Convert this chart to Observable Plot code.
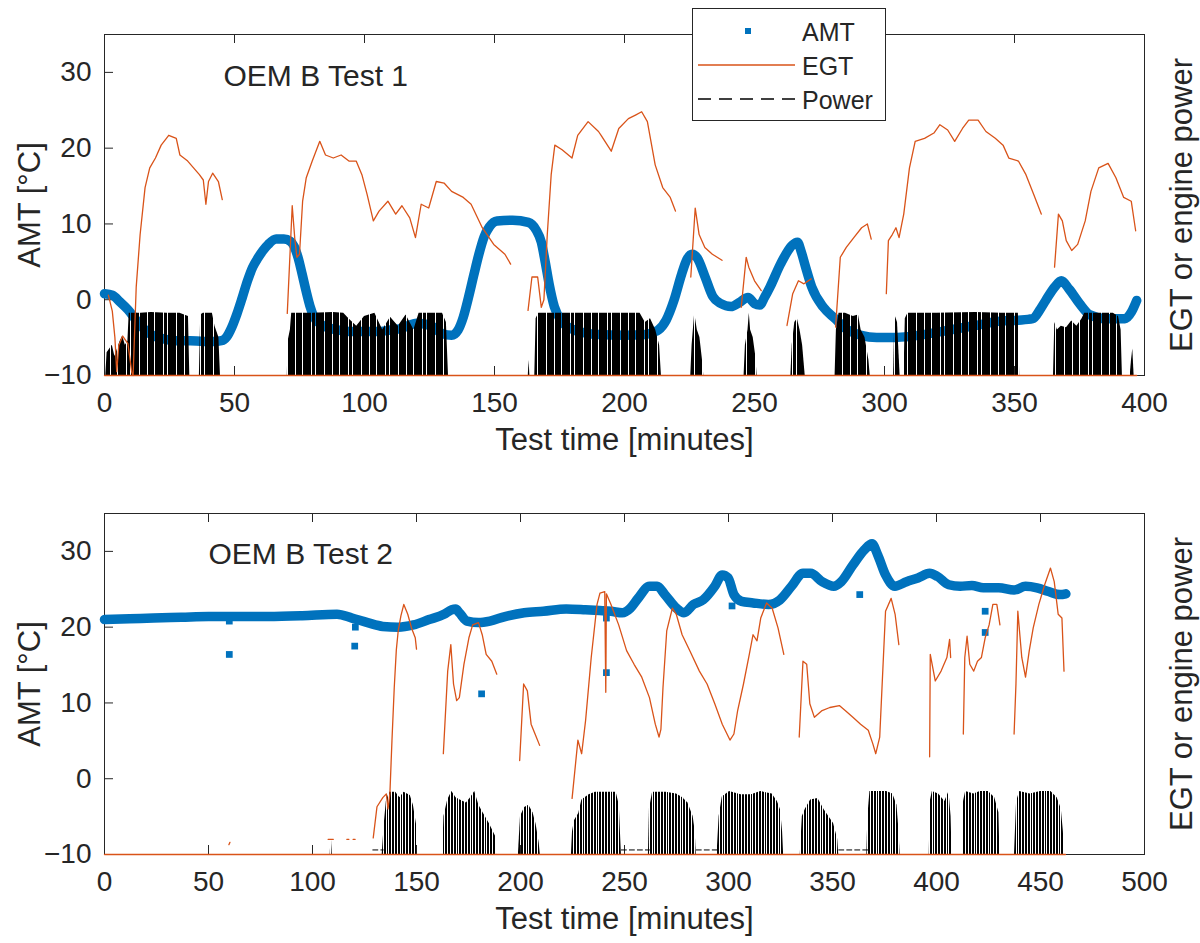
<!DOCTYPE html>
<html>
<head>
<meta charset="utf-8">
<script src="https://cdn.jsdelivr.net/npm/d3@7"></script>
<script src="https://cdn.jsdelivr.net/npm/@observablehq/plot@0.6"></script>
<style>
  body { margin: 0; background: #fff; }
  #fig { position: relative; width: 1200px; height: 943px; }
  #fig svg { display: block; }
</style>
</head>
<body>
<div id="fig"></div>
<script>
// ---------------------------------------------------------------------------
// Axis ticks
const yTicks = [-10, 0, 10, 20, 30];
const xTicks1 = [0, 50, 100, 150, 200, 250, 300, 350, 400];
const xTicks2 = [0, 50, 100, 150, 200, 250, 300, 350, 400, 450, 500];

// EGT and engine power have no tick scale of their own (the right axis only
// carries its title), so they are stored in the same units as the left axis.
const FLOOR = -10; // zero power / bottom of the frame

// ---------------------------------------------------------------------------
// OEM B Test 1: ambient temperature [t (min), °C]
const amt1 = [
  [0,0.8],[3,0.6],[6,-0.3],[9,-1.3],[12,-2.6],[15,-3.8],[18,-4.6],[22,-5.1],[27,-5.4],
  [33,-5.4],[38,-5.5],[42,-5.5],[45,-5.4],[47,-4.9],[49,-3.6],[51,-1.8],[53,0.3],[55,2.5],
  [57,4.3],[59,5.5],[61,6.5],[63,7.3],[66,8.0],[69,8.0],[71.5,7.7],[73,7.0],[74.5,5.5],
  [76,3.4],[77.5,1.2],[79,-0.8],[80.6,-2.3],[83,-3.2],[86,-3.7],[90,-4.0],[95,-4.2],
  [100,-4.2],[105,-4.2],[110,-4.0],[114,-3.8],[117,-3.4],[120,-3.1],[123,-3.2],[126,-3.5],
  [130,-4.5],[133.5,-4.7],[136,-4.0],[138,-2.3],[140,0.3],[142,3.2],[144,6.0],[146,8.3],
  [148,9.6],[151,10.4],[157,10.5],[163,10.2],[166,9.2],[168,7.6],[169.5,5.0],[171,2.1],
  [173,-0.9],[176,-2.9],[180,-3.9],[185,-4.4],[190,-4.6],[200,-4.7],[208,-4.6],[211,-4.3],
  [213,-4.0],[216,-2.7],[219,-0.1],[222,3.4],[224,5.3],[226,6.0],[228,5.5],[231,3.0],
  [234,0.4],[237,-0.5],[241,-0.9],[244,-0.4],[247.5,0.3],[250,-0.5],[252,-0.7],[254,0.4],
  [256,1.7],[260,4.7],[264.5,7.2],[266.5,7.6],[268,6.3],[269.5,4.5],[272,1.7],[276.5,-1.0],
  [281,-2.5],[285,-3.8],[291,-4.7],[297,-5.0],[303,-5.0],[308,-4.9],[315,-4.6],[325,-4.0],
  [335,-3.4],[345,-2.8],[351.5,-2.7],[357,-2.5],[360,-1.2],[362,-0.1],[365.5,1.7],[368,2.5],
  [371,1.4],[375,-0.5],[379,-2.0],[385,-2.5],[392.5,-2.5],[395,-1.6],[397,-0.1]
];

// OEM B Test 1: exhaust gas temperature, one list per recorded stretch
const egt1 = [
  [[0,-10],[397,-10]],
  [[1.5,0.6],[3,-1.5],[4,-5],[4.7,-9.5],[5.5,-6],[7,-4.8],[9,-5.8],[10.5,-9.6],[11,-10],
   [12.2,1.7],[13.7,8.6],[15.6,14.8],[17.4,17.4],[19.6,18.7],[21.8,20.4],[24.7,21.7],
   [27.6,21.3],[29,19.1],[32,18.3],[34.5,17.3],[36.5,16.5],[38,15.8],[39,12.6],[40,15.6],
   [41.6,16.7],[43.8,15.6],[45.3,13.2]],
  [[70.3,-1.8],[72.2,12.4],[73.2,8],[74,5.6],[75,6],[76.2,13],[77.6,16.1],[79.9,18.3],
   [82.8,20.9],[85,19.1],[88,18.7],[91,19.1],[94,18.3],[96.8,18.3],[99,16.5],[101,13.9],
   [103.4,10.4],[105.6,11.7],[109,13.0],[112,11.3],[114.4,12.4],[117.4,10.8],[119.6,8.2],
   [121.8,12.6],[124.7,12.1],[127.6,15.6],[130.6,15.4],[133.5,14.3],[138,13.5],[141,12.6],
   [145.3,9.5],[149.7,7.3],[154,6.0],[156.2,4.7]],
  [[162.9,-1.4],[164.4,3.0],[166.6,3.0],[168,-1.0],[169,0],[170.3,8.6],[171.8,16.5],
   [173.2,20.4],[176,19.8],[179.8,18.7],[182,21.7],[186,23.5],[190,22.2],[191,21.7],
   [194.9,19.6],[197.8,22.6],[201.5,23.9],[204.4,24.4],[206.6,24.8],[208.8,23.5],
   [211.8,17.8],[214.7,14.8],[217.6,13.5],[219.6,11.7]],
  [[225.5,3.0],[227.2,12.1],[228.7,8.6],[230.9,6.9],[233.8,6.0],[237.5,5.2]],
  [[244.9,-1.0],[246.8,5.6],[247.8,4.3],[250,2.5],[252.6,1.2]],
  [[262.5,-3.4],[264.7,0.8],[266.9,2.5],[269,2.1],[271.8,2.75]],
  [[281.2,-3.6],[283,5.6],[285.3,6.9],[288.2,8.2],[291.2,9.5],[293.4,10.0],[294.9,8.0]],
  [[300.7,0.8],[301.5,7.8],[303,8.6],[304.4,9.5],[305.6,8.2],[307.4,11.3],[309.6,17.4],
   [311.8,20.9],[315.4,21.3],[319,22.0],[321.3,23.1],[324.3,22.4],[327,20.9],[330,22.6],
   [332.4,23.7],[336,23.7],[339,22.2],[342.6,21.3],[345.6,20.4],[347.8,18.7],[351.5,18.3],
   [354.4,16.5],[357.4,13.9],[360.3,11.3]],
  [[365.4,4.3],[366.9,11.3],[368.4,10.4],[369.9,7.8],[372,6.5],[374.3,7.3],[377.2,10.4],
   [379.4,14.3],[382.4,17.4],[386,18.0],[389,16.1],[392,13.5],[394.9,13.0],[396.6,9.1]]
];

// OEM B Test 1: engine power, upper envelope of each burst of activity
const power1 = [
  [[0.5,-10],[1,-7],[2,-6.5],[3,-6],[4,-7.5],[5,-6.5],[6,-5.5],[7,-4.8],[8,-6],[9,-5.5],
   [9.5,-1.8],[14,-1.8],[18,-1.7],[24,-1.8],[29,-1.8],[32.3,-2.2],[32.8,-10]],
  [[36.5,-10],[37,-2],[38,-1.8],[41.5,-1.8],[42.5,-3.5],[44,-5],[44.6,-10]],
  [[70.3,-10],[70.6,-5.5],[71.5,-4],[72,-1.8],[80,-1.8],[88,-1.7],[92,-1.8],[94,-2.5],
   [97,-3.5],[100,-2.2],[104,-1.8],[107,-4],[110,-2.3],[113,-3.5],[116,-2],[119,-4],
   [121,-1.8],[126,-1.8],[130,-1.8],[131.5,-3],[132.3,-10]],
  [[163,-10],[163.3,-8],[163.6,-10]],
  [[165.5,-10],[166,-2.5],[167,-1.8],[185,-1.8],[200,-1.8],[206,-1.8],[208,-3],[210,-2.5],
   [212,-4],[213.5,-6],[214.2,-10]],
  [[225.5,-10],[226,-6],[227,-1.8],[228,-4],[229,-5],[230,-8],[230.5,-10]],
  [[246,-10],[246.5,-6],[247.5,-4],[248,-1.8],[248.5,-4],[249.5,-5],[250.5,-7.5],[251,-10]],
  [[264,-10],[264.5,-6],[265.5,-3],[266.5,-2.5],[267.5,-4],[268.5,-6],[269.5,-10]],
  [[281,-10],[281.5,-4],[282.5,-1.8],[285,-1.8],[288,-2.2],[290,-2],[291,-4],[292.5,-5],
   [294,-8],[294.5,-10]],
  [[303.5,-10],[304,-2],[305,-3],[306,-10]],
  [[307.5,-10],[308,-2.5],[309,-1.8],[320,-1.8],[335,-1.7],[345,-1.8],[351.5,-1.8],[352,-10]],
  [[365,-10],[365.5,-3],[366.5,-4],[368,-3.5],[370,-3.7],[372,-2.8],[374,-3.5],[376,-2.5],
   [377,-1.8],[384,-1.8],[388,-1.8],[390,-2.2],[391,-4],[391.5,-10]],
  [[394.5,-10],[395,-8],[395.5,-6.5],[396,-10]]
];

// ---------------------------------------------------------------------------
// OEM B Test 2: ambient temperature [t (min), °C]
const amt2 = [
  [0,21.0],[12,21.1],[23.5,21.2],[37,21.3],[50,21.4],[65,21.4],[78.7,21.4],[95,21.5],
  [111.8,21.7],[119,21.2],[126.5,20.6],[133.8,20.1],[141.2,20.0],[148.5,20.3],[156,21.0],
  [163.2,21.7],[166.9,22.3],[168.8,22.4],[170.6,21.9],[174.3,20.8],[179.8,20.6],
  [185.3,20.8],[192.6,21.4],[201.8,21.9],[211,22.1],[222,22.4],[231.2,22.3],[238,22.2],
  [243.5,22.1],[249,21.9],[252.8,22.5],[256.5,23.8],[262,25.4],[265.7,25.4],[269.4,24.3],
  [275,22.5],[278.6,21.9],[283.2,23.0],[287.8,23.6],[293.4,25.4],[297,26.9],[299.8,26.5],
  [302.6,24.3],[306.3,23.4],[311.8,23.2],[319.2,23.0],[324.7,23.6],[330.3,25.4],
  [335.8,27.1],[339.5,27.1],[345,26.0],[350.6,25.4],[354.2,26.0],[359.8,28.2],[365.3,30.2],
  [369,31.0],[371.8,29.5],[375.5,26.9],[380,25.4],[385.6,26.0],[391.1,26.5],[396.7,27.1],
  [400.4,26.7],[405.9,25.6],[411.4,25.4],[417,25.5],[422.5,25.2],[429.9,25.2],[437.3,24.9],
  [442.8,25.4],[448.3,25.2],[453.9,24.7],[459.4,24.3],[462.2,24.4]
];

// OEM B Test 2: isolated AMT readings away from the main trace
const amtStray2 = [
  [60,20.8],[60,16.4],[120.6,20.0],[120.3,17.5],[181.3,11.2],[241.3,21.2],[241.3,14.0],
  [301.7,22.8],[363.1,24.3],[423.4,22.1],[423.4,19.3]
];

// OEM B Test 2: exhaust gas temperature
const egt2 = [
  [[0,-10],[462,-10]],
  [[59.8,-8.7],[60.3,-8.4]],
  [[107.5,-8],[110,-8]],
  [[116.5,-8],[117.5,-8]],
  [[119.5,-8],[120.5,-8]],
  [[129.2,-7.8],[131,-3.7],[133.8,-2.5],[135.5,-2.0],[136.3,-4],[137.2,-2],[138.2,5],
   [139.3,12],[140.3,17],[141.2,19.5],[142.5,21.5],[143.9,23.0],[145.8,21.7],[147.6,19.9],
   [149.4,18.6],[150,17.1]],
  [[162.9,3.3],[165,14.2],[166.5,17.7],[167.8,12.5],[169.3,10.3],[170.6,10.7],[172.8,15.1],
   [175.2,18.6],[177,20.3],[179.8,20.6],[181.6,19.0],[183.5,16.4],[186.2,15.5],[188.6,13.8]],
  [[199.6,2.4],[201.5,12.5],[203.3,11.6],[205.1,7.2],[207,5.9],[209.2,4.4]],
  [[224.8,-2.6],[227.6,5.1],[229.4,3.3],[231.3,7.7],[234,16.0],[236.8,23.0],[238.2,24.5],
   [240.5,24.7],[241,11.4],[241.3,24.4],[243.5,23.0],[247.2,20.3],[251,16.9],[254.6,15.1],
   [258.3,13.4],[262,10.7],[264.8,7.2],[266.6,5.5],[267.5,6.5],[268.5,12.0],[270.3,19.5],
   [273,22.5],[274.9,21.7],[277.7,19.0],[281.4,16.9],[286,14.2],[289.7,12.5],[293.4,9.9],
   [297,7.2],[300.7,5.1],[302.6,5.9],[304.4,9.0],[307.2,12.5],[310,16.4],[311.8,19.0],
   [313.7,18.2],[315.5,21.2],[318.3,23.2],[321,22.5],[323.8,19.9],[326.6,16.4]],
  [[334,5.5],[335.8,15.5],[337.6,15.1],[339.1,9.9],[341.3,8.1],[345,9.0],[348.7,9.4],
   [353.3,9.65],[356.1,9.0],[359.8,8.1],[363.5,7.2],[367.2,6.4],[369.4,4.6],[370.8,3.3],
   [372.7,5.5],[375.5,22.1],[378.2,23.8],[380.1,21.7],[381.9,17.7]],
  [[396.7,2.9],[397,16.4],[399.4,12.9],[402.2,14.2],[405,16.0],[406.3,18.4],[406.8,16]],
  [[412.9,5.9],[413.6,16.0],[414.7,18.8],[416,15.1],[417.9,14.2],[419.7,15.5],[421.6,16.0],
   [423.4,18.6],[425.3,20.3],[427.1,23.0],[429,23.0],[430.5,20.3]],
  [[437.3,5.9],[438.2,12.5],[439.1,22.1],[441,16.0],[442.8,13.4],[444.6,16.9],[446.5,19.9],
   [449.2,23.0],[452,25.6],[454.8,27.8],[456.6,26.0],[458.5,21.7],[460.3,21.2],[461.3,14.2]]
];

// OEM B Test 2: engine power bursts (upper envelope)
const power2 = [
  [[108.5,-10],[109,-7.5],[109.5,-10]],
  [[133.5,-10],[134.5,-6],[135.5,-3],[137,-1.8],[140,-1.8],[142,-2.5],[144,-1.8],[147,-2.2],
   [148.5,-3.5],[150,-6],[150.5,-10]],
  [[162.5,-10],[163.2,-5],[165,-2.8],[167,-1.7],[169,-2.5],[171,-2.8],[174,-3.2],[176,-2.5],
   [178,-1.7],[180,-3.5],[182,-4.5],[185,-5.9],[188,-7.6],[188.5,-10]],
  [[199,-10],[200,-5],[202,-3.8],[204,-3.5],[206,-4.5],[207.5,-6],[209,-8.5],[209.5,-10]],
  [[224.5,-10],[225,-7],[226,-5.5],[228,-4.6],[229.5,-2.8],[233,-2.1],[236,-1.8],[246,-1.8],
   [247.5,-3.5],[248.5,-10]],
  [[261.5,-10],[262,-4],[263.5,-1.8],[270,-1.8],[275,-2],[278,-2.5],[280.5,-3.2],[283,-5],
   [284,-7],[284.5,-10]],
  [[294.5,-10],[295.5,-5],[297,-2.4],[300.5,-1.7],[306,-2.1],[311,-2.1],[315.5,-1.7],
   [321,-2],[323.5,-3],[325,-4.1],[326,-7],[326.5,-10]],
  [[334.5,-10],[335.5,-5],[337,-4],[339.5,-2.8],[343,-2.6],[346,-4.1],[350.5,-5.9],
   [352.5,-8],[353,-10]],
  [[366.5,-10],[367,-5],[368,-1.7],[376,-1.7],[379,-2],[381,-3.5],[382,-7],[382.5,-10]],
  [[396.5,-10],[397,-3],[398,-1.7],[401,-2],[404,-3],[406,-1.7],[407,-5],[407.5,-10]],
  [[412.5,-10],[413,-3],[414,-1.7],[418,-2],[421,-1.7],[425,-1.7],[428,-2.5],[430,-4.5],
   [430.5,-10]],
  [[437.5,-10],[438.5,-3],[440,-1.7],[445,-2],[450,-1.7],[455,-1.7],[458,-2.5],[460,-4],
   [461,-7],[461.5,-10]]
];

// OEM B Test 2: idle power between bursts
const powerIdle2 = [
  [[129,-9.4],[134,-9.4]],
  [[248.5,-9.4],[262,-9.4]],
  [[284.5,-9.4],[295,-9.4]],
  [[353,-9.4],[367,-9.4]]
];

// ---------------------------------------------------------------------------
const INK = "#262626";
const BLUE = "#0072BD";
const ORANGE = "#D95319";
const FONT = '"Liberation Sans", Arial, Helvetica, sans-serif';
const W = 1200, ML = 104, MR = 56;

// flatten a list of stretches into rows with a stretch id
const rows = (segs) => segs.flatMap((seg, i) => seg.map(([t, v]) => ({t, v, seg: i})));

// stripe fill for the dense power trace
function addHatch(svg, id, bars, period) {
  const p = d3.select(svg).insert("defs", ":first-child").append("pattern")
    .attr("id", id).attr("patternUnits", "userSpaceOnUse")
    .attr("width", period).attr("height", 20);
  for (const [x0, x1] of bars) {
    p.append("rect").attr("x", x0).attr("y", 0).attr("width", x1 - x0).attr("height", 20)
      .attr("fill", "#000").attr("shape-rendering", "crispEdges");
  }
}

function panel({xMax, xTicks, amt, amtStray, egt, power, powerIdle, title, titleDx, titleDy,
                height, marginTop, marginBottom, hatchId}) {
  const plotW = W - ML - MR;
  const plotH = height - marginTop - marginBottom;
  return Plot.plot({
    width: W, height, marginLeft: ML, marginRight: MR, marginTop, marginBottom,
    style: {fontFamily: FONT, color: INK, background: "#fff", overflow: "visible"},
    x: {domain: [0, xMax]},
    y: {domain: [-10, 35]},
    marks: [
      Plot.frame({stroke: INK, strokeWidth: 1}),
      // inward ticks: bottom, top, left
      Plot.tickX(xTicks, {x: d => d, stroke: INK, insetTop: plotH - 9}),
      Plot.tickX(xTicks, {x: d => d, stroke: INK, insetBottom: plotH - 9}),
      Plot.tickY(yTicks, {y: d => d, stroke: INK, insetRight: plotW - 9}),
      Plot.axisX(xTicks, {tickSize: 0, tickPadding: 17, fontSize: 28, label: null, fill: INK}),
      Plot.axisY(yTicks, {tickSize: 0, tickPadding: 13, fontSize: 28, label: null, fill: INK}),
      // AMT
      Plot.line(amt, {x: d => d[0], y: d => d[1], stroke: BLUE, strokeWidth: 9.5,
                      strokeLinecap: "round", strokeLinejoin: "round", curve: "monotone-x"}),
      amtStray ? Plot.dot(amtStray, {x: d => d[0], y: d => d[1], symbol: "square", r: 3.8, fill: BLUE}) : null,
      // engine power
      Plot.areaY(rows(power), {x: "t", y1: () => FLOOR, y2: "v", z: "seg", fill: `url(#${hatchId})`}),
      powerIdle ? Plot.line(rows(powerIdle), {x: "t", y: "v", z: "seg", stroke: "#000",
                                              strokeWidth: 1, strokeDasharray: "5,3"}) : null,
      // EGT
      Plot.line(rows(egt), {x: "t", y: "v", z: "seg", stroke: ORANGE, strokeWidth: 1.3}),
      // panel title and axis titles
      Plot.text([title], {text: d => d, frameAnchor: "top-left", dx: titleDx, dy: titleDy,
                          textAnchor: "start", lineAnchor: "middle", fontSize: 30, fill: INK}),
      Plot.text(["Test time [minutes]"], {text: d => d, frameAnchor: "bottom", dy: 65,
                                         textAnchor: "middle", lineAnchor: "middle", fontSize: 31, fill: INK}),
      Plot.text(["AMT [°C]"], {text: d => d, frameAnchor: "left", dx: -74, rotate: -90,
                              textAnchor: "middle", lineAnchor: "middle", fontSize: 31, fill: INK}),
      Plot.text(["EGT or engine power"], {text: d => d, frameAnchor: "right", dx: 38, rotate: -90,
                                         textAnchor: "middle", lineAnchor: "middle", fontSize: 31, fill: INK})
    ]
  });
}

const chartTest1 = panel({
  xMax: 400, xTicks: xTicks1, amt: amt1, egt: egt1, power: power1,
  title: "OEM B Test 1", titleDx: 119, titleDy: 42,
  height: 470, marginTop: 34, marginBottom: 95, hatchId: "hatch-test1"
});
addHatch(chartTest1, "hatch-test1", [[0, 6], [7, 15], [16, 19], [20, 28], [29, 36]], 37);

const chartTest2 = panel({
  xMax: 500, xTicks: xTicks2, amt: amt2, amtStray: amtStray2, egt: egt2, power: power2,
  powerIdle: powerIdle2,
  title: "OEM B Test 2", titleDx: 104, titleDy: 41,
  height: 473, marginTop: 43, marginBottom: 89, hatchId: "hatch-test2"
});
addHatch(chartTest2, "hatch-test2", [[0, 2], [3, 5], [6, 8], [9, 10], [11, 13]], 14);

// legend for both series sets, straddling the top edge of the first frame
{
  const g = d3.select(chartTest1).append("g")
    .attr("font-family", FONT).attr("font-size", 25).attr("fill", INK).attr("text-anchor", "start");
  g.append("rect").attr("x", 692.5).attr("y", 8.5).attr("width", 193).attr("height", 112)
    .attr("fill", "#fff").attr("stroke", INK).attr("stroke-width", 1);
  g.append("rect").attr("x", 745).attr("y", 28).attr("width", 6).attr("height", 6).attr("fill", BLUE);
  g.append("line").attr("x1", 698).attr("x2", 795).attr("y1", 65).attr("y2", 65)
    .attr("stroke", ORANGE).attr("stroke-width", 1.3);
  g.append("line").attr("x1", 698).attr("x2", 795).attr("y1", 99).attr("y2", 99)
    .attr("stroke", "#000").attr("stroke-width", 1.3).attr("stroke-dasharray", "13,8");
  const labels = [["AMT", 32], ["EGT", 66], ["Power", 100]];
  for (const [s, y] of labels) {
    g.append("text").attr("x", 802).attr("y", y).attr("dy", "0.35em").attr("text-anchor", "start").text(s);
  }
}

const fig = document.getElementById("fig");
fig.appendChild(chartTest1);
fig.appendChild(chartTest2);
</script>
</body>
</html>
